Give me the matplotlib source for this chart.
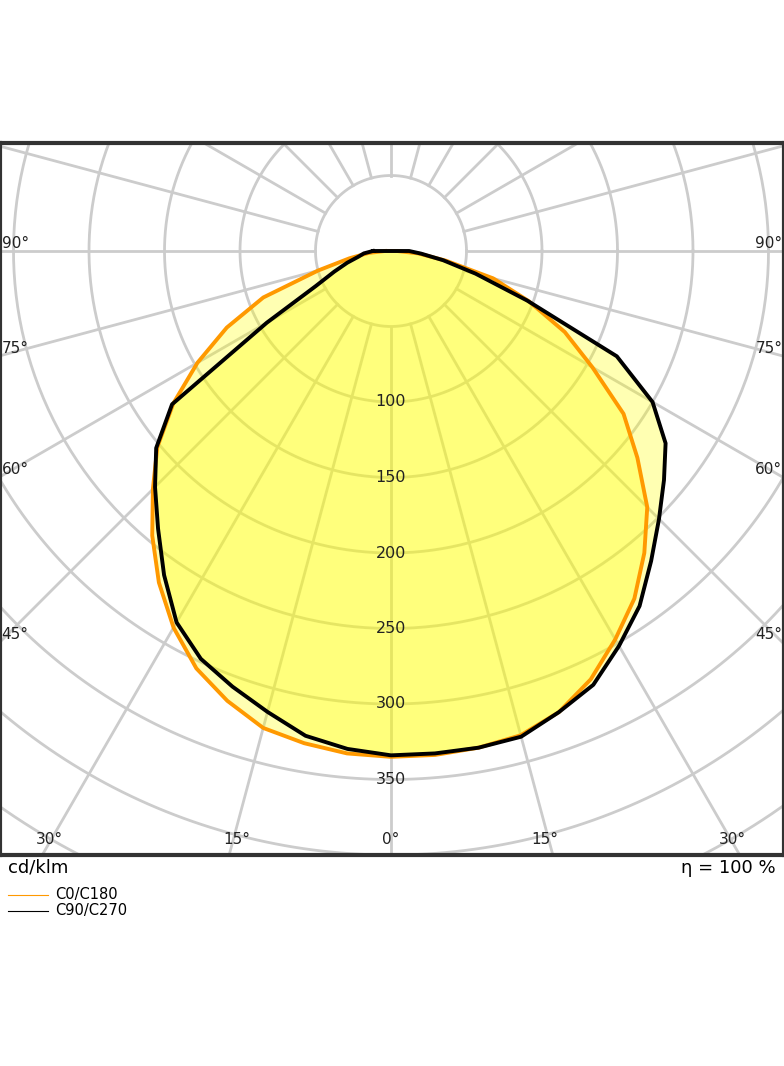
import numpy as np
import matplotlib
matplotlib.use("Agg")
import matplotlib.pyplot as plt

angles = list(range(-90, 95, 5))
c0_c180 = [4, 15, 28, 50, 90, 120, 148, 176, 202, 223, 246, 268, 288, 305, 317, 327, 331, 334, 335,
           335, 334, 332, 325, 313, 297, 281, 261, 240, 213, 188, 154, 127, 97, 70, 37, 18, 4]
c90_c270 = [12, 18, 22, 30, 40, 55, 95, 177, 203, 221, 240, 262, 284, 298, 307, 316, 326, 331, 334,
            334, 334, 333, 325, 317, 302, 287, 268, 251, 236, 222, 200, 165, 96, 58, 35, 20, 12]
ring_labels = [100, 150, 200, 250, 300, 350]
side_labels = [90, 75, 60, 45]
bottom_labels = [30, 15, 0, 15, 30]
bottom_angles = [-30, -15, 0, 15, 30]

fig = plt.figure(figsize=(7.84, 10.66), dpi=100)
ax = fig.add_axes([0.0, 1 - 855/1066, 1.0, 712/1066])
S = 1.51
xmin, xmax = -391/S, 393/S
ymin, ymax = -(855-251)/S, (251-143)/S
ax.set_xlim(xmin, xmax); ax.set_ylim(ymin, ymax)
ax.set_xticks([]); ax.set_yticks([])
for s in ax.spines.values():
    s.set_color('#333333'); s.set_linewidth(3)

grid = '#cccccc'
t = np.linspace(0, 2*np.pi, 400)
for r in range(50, 551, 50):
    ax.plot(r*np.cos(t), r*np.sin(t), color=grid, lw=2, zorder=1)
for a in range(0, 360, 15):
    ar = np.radians(a)
    ax.plot([50*np.sin(ar), 700*np.sin(ar)], [-50*np.cos(ar), -700*np.cos(ar)], color=grid, lw=2, zorder=1)

th = np.radians(angles)
for vals, col in [(c0_c180, '#ff9900'), (c90_c270, 'black')]:
    v = np.array(vals, float)
    x = v*np.sin(th); y = -v*np.cos(th)
    ax.fill(x, y, color='#ffff00', alpha=0.3, lw=0, zorder=2)
for vals, col in [(c0_c180, '#ff9900'), (c90_c270, 'black')]:
    v = np.array(vals, float)
    x = v*np.sin(th); y = -v*np.cos(th)
    ax.plot(np.r_[x, x[0]], np.r_[y, y[0]], color=col, lw=2.8, zorder=3)

for r in ring_labels:
    ax.text(0, -r, str(r), ha='center', va='center', fontsize=11.5, color='#222222', zorder=4)
for a in side_labels:
    ypix = 391/np.tan(np.radians(a)) if a != 90 else 0
    yv = -ypix/S + 5
    ax.text(xmin+1, yv, f"{a}°", ha='left', va='center', fontsize=11, color='#222222')
    ax.text(xmax-1, yv, f"{a}°", ha='right', va='center', fontsize=11, color='#222222')
for lab, a in zip(bottom_labels, bottom_angles):
    xv = (604*np.tan(np.radians(a)))/S - np.sign(a)*5
    ax.text(xv, ymin + 10, f"{lab}°", ha='center', va='center', fontsize=11, color='#222222')

fig.text(8/784, 1-868/1066, "cd/klm", ha='left', va='center', fontsize=13)
fig.text(776/784, 1-868/1066, "η = 100 %", ha='right', va='center', fontsize=13)
fig.add_artist(plt.Line2D([8/784, 48/784], [1-895/1066]*2, color='#ff9900', lw=0.8))
fig.add_artist(plt.Line2D([8/784, 48/784], [1-911/1066]*2, color='black', lw=0.8))
fig.text(55/784, 1-895/1066, "C0/C180", ha='left', va='center', fontsize=10.5)
fig.text(55/784, 1-911/1066, "C90/C270", ha='left', va='center', fontsize=10.5)
fig.savefig("out.png", dpi=100)
